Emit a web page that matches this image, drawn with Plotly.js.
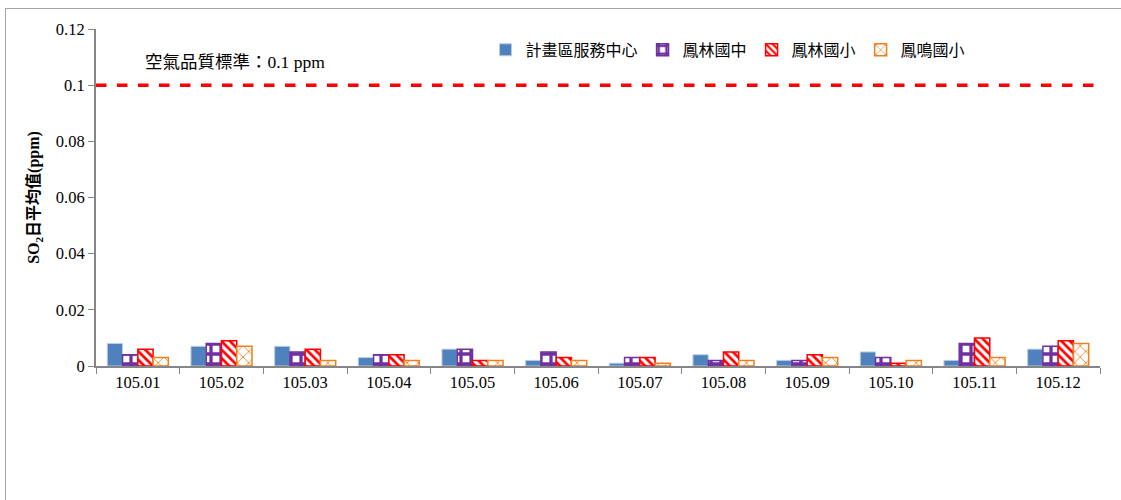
<!DOCTYPE html>
<html><head><meta charset="utf-8">
<script src="https://cdn.plot.ly/plotly-3.0.1.min.js"></script>
<style>
html,body{margin:0;padding:0;background:#fff;}
#frame{position:absolute;left:5px;top:8px;width:1120px;height:495px;border:1px solid #a6a6a6;box-sizing:border-box;pointer-events:none;z-index:5;}
#chart{position:absolute;left:0;top:0;width:1121px;height:500px;}
</style></head>
<body>
<div id="chart"></div><div id="frame"></div>
<script>
const months = ['105.01','105.02','105.03','105.04','105.05','105.06','105.07','105.08','105.09','105.10','105.11','105.12'];
const seriesNames = ['計畫區服務中心','鳳林國中','鳳林國小','鳳鳴國小'];
const center = [0.008,0.007,0.007,0.003,0.006,0.002,0.001,0.004,0.002,0.005,0.002,0.006];
const fenglinJH = [0.004,0.008,0.005,0.004,0.006,0.005,0.003,0.002,0.002,0.003,0.008,0.007];
const fenglinES = [0.006,0.009,0.006,0.004,0.002,0.003,0.003,0.005,0.004,0.001,0.010,0.009];
const fengmingES = [0.003,0.007,0.002,0.002,0.002,0.002,0.001,0.002,0.003,0.002,0.003,0.008];
const standard = 0.1;
const yTicks = [0,0.02,0.04,0.06,0.08,0.1,0.12];
const yTickText = ['0','0.02','0.04','0.06','0.08','0.1','0.12'];

const serif = '"Liberation Serif","Noto Sans CJK TC",serif';
const traces = [
  {name:seriesNames[0], y:center, marker:{color:'#4F81BD', line:{color:'#b9cde5',width:1}}},
  {name:seriesNames[1], y:fenglinJH, marker:{color:'#7030A0', line:{color:'#7030A0',width:1.5},
     pattern:{shape:'+', fgcolor:'#7030A0', bgcolor:'#ffffff', size:10, solidity:0.55, fillmode:'replace'}}},
  {name:seriesNames[2], y:fenglinES, marker:{color:'#FF0000', line:{color:'#FF0000',width:1.5},
     pattern:{shape:'\\', fgcolor:'#FF0000', bgcolor:'#ffffff', size:6, solidity:0.45, fillmode:'replace'}}},
  {name:seriesNames[3], y:fengmingES, marker:{color:'#F07F1E', line:{color:'#F07F1E',width:1.5},
     pattern:{shape:'x', fgcolor:'#F07F1E', bgcolor:'#ffffff', size:8, solidity:0.2, fillmode:'replace'}}}
].map(t => Object.assign({type:'bar', x:months}, t));

const layout = {
  width:1121, height:500,
  margin:{l:96, r:21, t:29, b:134},
  paper_bgcolor:'#fff', plot_bgcolor:'#fff',
  barmode:'group', bargap:0.27, bargroupgap:0,
  font:{family:serif, size:16, color:'#000'},
  xaxis:{type:'category', showline:true, linecolor:'#868686', linewidth:2,
    ticks:'outside', tickson:'boundaries', ticklen:6, tickcolor:'#868686', tickwidth:1,
    tickfont:{family:serif, size:16.5}, showgrid:false, zeroline:false, fixedrange:true},
  yaxis:{range:[0,0.12], tickvals:yTicks, ticktext:yTickText, showline:true, linecolor:'#868686', linewidth:2,
    ticks:'outside', ticklen:6, tickcolor:'#868686', tickfont:{family:serif, size:16.5},
    showgrid:false, zeroline:false,
    title:{text:'<b>SO<sub>2</sub>日平均值(ppm)</b>', font:{family:serif, size:16}, standoff:12}},
  showlegend:true,
  legend:{orientation:'h', x:0.388, xanchor:'left', y:0.938, yanchor:'middle',
    font:{family:'"Noto Sans CJK TC",serif', size:16}, bgcolor:'rgba(0,0,0,0)',
    traceorder:'normal', itemwidth:30, tracegroupgap:0, entrywidth:0},
  shapes:[{type:'line', xref:'paper', x0:0, x1:1, yref:'y', y0:standard, y1:standard,
    line:{color:'#FF0000', width:3.5, dash:'dash'}}],
  annotations:[{xref:'paper', x:0.047, xanchor:'left', yref:'y', y:0.1082, yanchor:'middle',
    text:'空氣品質標準：0.1 ppm', showarrow:false, font:{family:serif, size:17.5, color:'#000'}}]
};
Plotly.newPlot('chart', traces, layout, {displayModeBar:false, staticPlot:true});
</script>
</body></html>
